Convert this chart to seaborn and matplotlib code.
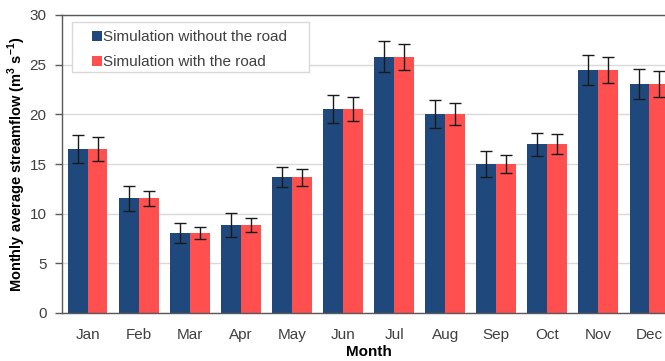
import matplotlib
matplotlib.use("Agg")
import matplotlib.pyplot as plt
import seaborn as sns
import pandas as pd
from matplotlib.patches import Rectangle
from matplotlib.ticker import FixedLocator

# Monthly mean streamflow (m3/s) and error-bar half-widths for the two runs
months = ["Jan", "Feb", "Mar", "Apr", "May", "Jun",
          "Jul", "Aug", "Sep", "Oct", "Nov", "Dec"]
flow_without_road = [16.5, 11.55, 8.05, 8.85, 13.65, 20.5, 25.8, 20.0, 15.0, 17.0, 24.5, 23.05]
flow_with_road = [16.5, 11.55, 8.05, 8.85, 13.65, 20.5, 25.8, 20.0, 15.0, 17.0, 24.5, 23.05]
err_without_road = [1.4, 1.25, 1.0, 1.2, 1.0, 1.4, 1.55, 1.4, 1.35, 1.15, 1.5, 1.5]
err_with_road = [1.2, 0.75, 0.6, 0.7, 0.85, 1.2, 1.3, 1.1, 0.9, 1.0, 1.3, 1.3]
series_names = ["Simulation without the road", "Simulation with the road"]
colors = ["#1F497D", "#FF4F4F"]
y_ticks = [0, 5, 10, 15, 20, 25, 30]

sns.set_theme(style="white")
plt.rcParams["font.family"] = ["Liberation Sans", "DejaVu Sans"]
plt.rcParams["mathtext.fontset"] = "custom"
plt.rcParams["mathtext.rm"] = "Liberation Sans"
plt.rcParams["mathtext.bf"] = "Liberation Sans:bold"

df = pd.DataFrame({
    "Month": months * 2,
    "Flow": flow_without_road + flow_with_road,
    "Series": [series_names[0]] * len(months) + [series_names[1]] * len(months),
})

W, H = 665, 361
fig = plt.figure(figsize=(W / 100, H / 100), dpi=100)
ax = fig.add_axes([62 / W, 48 / H, 613 / W, 298 / H])

sns.barplot(data=df, x="Month", y="Flow", hue="Series", hue_order=series_names,
            order=months, palette=colors, width=0.78, errorbar=None,
            saturation=1, linewidth=0, ax=ax, zorder=2)

# error bars centred on each drawn bar
for cont, errs in zip(ax.containers, [err_without_road, err_with_road]):
    xs = [p.get_x() + p.get_width() / 2 for p in cont]
    ys = [p.get_height() for p in cont]
    ax.errorbar(xs, ys, yerr=errs, fmt="none", ecolor="#1a1a1a",
                elinewidth=1, capsize=4, capthick=1, zorder=3)

ax.set_ylim(0, 30)
ax.set_xlim(-0.5, len(months) - 0.5)
ax.set_yticks(y_ticks)
ax.yaxis.grid(True, color="#D9D9D9", linewidth=1, zorder=0)
ax.set_axisbelow(True)

# category boundary ticks on the x axis
ax.xaxis.set_minor_locator(FixedLocator([i - 0.5 for i in range(len(months) + 1)]))
ax.tick_params(axis="x", which="major", length=0, pad=11, labelsize=11, labelcolor="#404040")
ax.tick_params(axis="x", which="minor", length=5, width=1, color="#595959", direction="out")
ax.tick_params(axis="y", length=5, width=1, color="#595959", direction="out",
               pad=6, labelsize=11, labelcolor="#404040", left=True)

for side in ["left", "bottom", "top"]:
    ax.spines[side].set_color("#595959")
    ax.spines[side].set_linewidth(1)
ax.spines["right"].set_visible(False)

ax.set_xlabel("Month", fontsize=11, fontweight="bold", color="#000000")
ax.set_ylabel(r"Monthly average streamflow (m$^{\mathbf{3}}$ s$^{\mathbf{-1}}$)",
              fontsize=10.5, fontweight="bold", color="#000000")
ax.xaxis.set_label_coords(0.5, -0.108)
ax.yaxis.set_label_coords(-0.056, 0.5)

# legend: a plain light-grey box with the two entries inside
box = Rectangle((72 / W, 1 - 72 / H), (309 - 72) / W, (72 - 22) / H,
                transform=fig.transFigure, facecolor="white", edgecolor="#D9D9D9",
                linewidth=1, zorder=4, clip_on=False)
ax.add_patch(box)
leg = ax.legend(loc="upper left", bbox_to_anchor=(92 / W, 1 - 30 / H),
                bbox_transform=fig.transFigure, borderaxespad=0, borderpad=0,
                fontsize=11, frameon=False, handlelength=0.65, handleheight=0.65,
                handletextpad=0.07, labelspacing=0.72)
leg.set_zorder(5)
for t in leg.get_texts():
    t.set_color("#404040")

fig.savefig("out.png", dpi=100)
